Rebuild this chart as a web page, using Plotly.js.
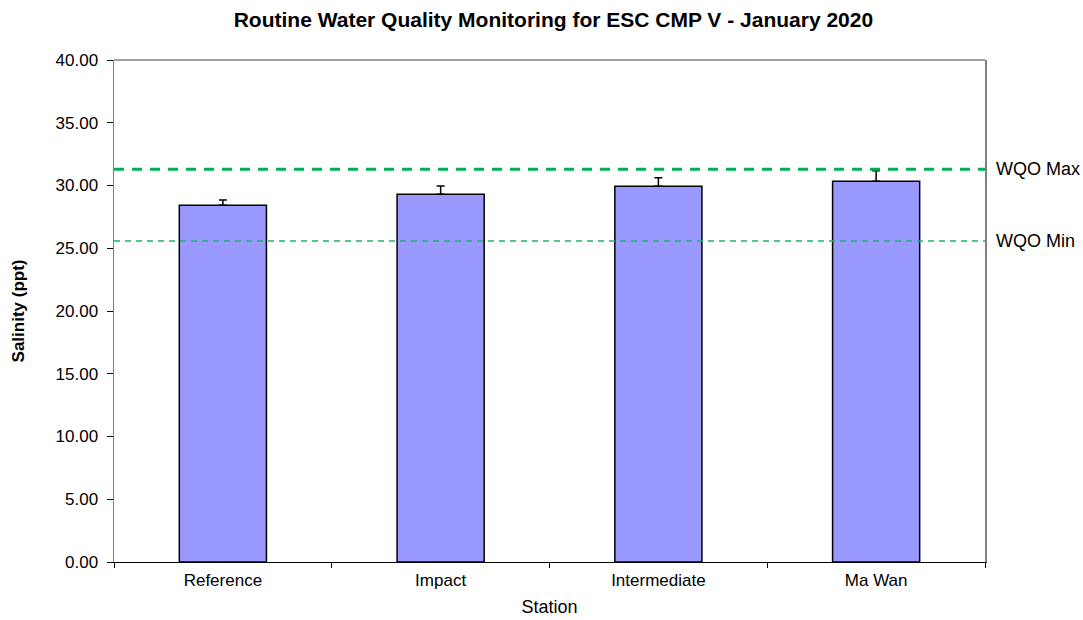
<!DOCTYPE html>
<html>
<head>
<meta charset="utf-8">
<script src="https://cdn.plot.ly/plotly-3.0.1.min.js"></script>
<style>html,body{margin:0;padding:0;background:#fff;}#chart{width:1083px;height:620px;}</style>
</head>
<body>
<div id="chart"></div>
<script>
const stations = ["Reference", "Impact", "Intermediate", "Ma Wan"];
const salinity = [28.42, 29.31, 29.94, 30.33];
const errPlus = [0.42, 0.65, 0.68, 0.85];
const wqoMax = 31.3;
const wqoMin = 25.57;
const yTicks = [0, 5, 10, 15, 20, 25, 30, 35, 40];

const font = "Liberation Sans, Arial, sans-serif";

const trace = {
  type: "bar",
  x: stations,
  y: salinity,
  marker: {color: "#9999FF", line: {color: "#000000", width: 1.5}},
  error_y: {type: "data", symmetric: false, array: errPlus, arrayminus: salinity.map(() => 0),
            color: "#000000", thickness: 1.5, width: 4},
  hoverinfo: "x+y"
};

const layout = {
  width: 1083, height: 620,
  margin: {l: 114, r: 98, t: 60, b: 58},
  paper_bgcolor: "#ffffff", plot_bgcolor: "#ffffff",
  showlegend: false,
  bargap: 0.6,
  title: {text: "Routine Water Quality Monitoring for ESC CMP V - January 2020",
          font: {family: font, size: 21, color: "#000", weight: "bold"},
          x: 0.511, xanchor: "center", y: 0.968, yanchor: "middle"},
  xaxis: {
    type: "category",
    tickson: "boundaries",
    ticks: "outside", ticklen: 5, tickcolor: "#000", tickwidth: 1,
    showline: true, linecolor: "#000", linewidth: 1,
    showgrid: false, zeroline: false,
    ticklabelstandoff: 3,
    tickfont: {family: font, size: 17, color: "#000"},
    title: {text: "Station", font: {family: font, size: 18, color: "#000"}, standoff: 10}
  },
  yaxis: {
    range: [0, 40],
    tickvals: yTicks,
    ticktext: yTicks.map(v => v.toFixed(2)),
    ticks: "outside", ticklen: 6, tickcolor: "#000", tickwidth: 1,
    showline: true, linecolor: "#808080", linewidth: 1.5, mirror: true,
    showgrid: false, zeroline: false,
    ticklabelstandoff: 5,
    tickfont: {family: font, size: 17, color: "#000"},
    title: {text: "Salinity (ppt)", font: {family: font, size: 17, color: "#000", weight: "bold"}, standoff: 26}
  },
  shapes: [
    {type: "line", xref: "paper", x0: 0, x1: 1, yref: "paper", y0: 1, y1: 1,
     line: {color: "#808080", width: 1.5}},
    {type: "line", xref: "paper", x0: 0, x1: 1, yref: "y", y0: wqoMax, y1: wqoMax,
     line: {color: "#00B050", width: 3, dash: "10px,8px"}},
    {type: "line", xref: "paper", x0: 0, x1: 1, yref: "y", y0: wqoMin, y1: wqoMin,
     line: {color: "#1DB36B", width: 1.5, dash: "6px,5px"}}
  ],
  annotations: [
    {text: "WQO Max", xref: "paper", x: 1.0105, xanchor: "left", yref: "y", y: wqoMax, yanchor: "middle",
     showarrow: false, font: {family: font, size: 18, color: "#000"}},
    {text: "WQO Min", xref: "paper", x: 1.0105, xanchor: "left", yref: "y", y: wqoMin, yanchor: "middle",
     showarrow: false, font: {family: font, size: 18, color: "#000"}}
  ]
};

Plotly.newPlot("chart", [trace], layout, {displayModeBar: false, staticPlot: true});
</script>
</body>
</html>
